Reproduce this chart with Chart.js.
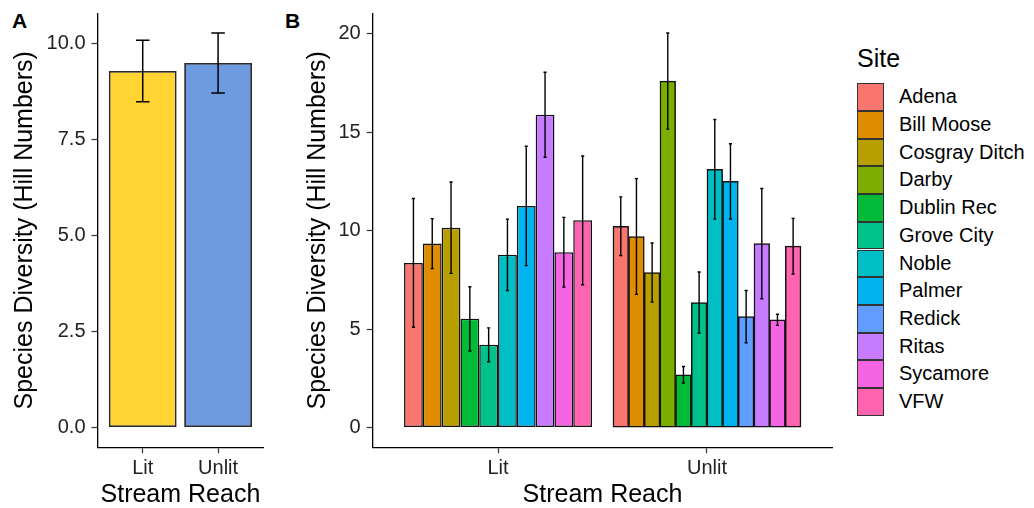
<!DOCTYPE html>
<html>
<head>
<meta charset="utf-8">
<script src="https://cdn.jsdelivr.net/npm/chart.js@4.4.1/dist/chart.umd.min.js"></script>
<style>
    html, body { margin: 0; padding: 0; background: #fff; }
    body {
        width: 1034px; height: 508px; position: relative; overflow: hidden;
        font-family: "Liberation Sans", Arial, sans-serif; color: #000;
    }
    canvas { position: absolute; top: 0; }
    #chartA { left: 0; }
    #chartB { left: 280px; }
    .tag { position: absolute; top: 10px; font-weight: bold; font-size: 21px; line-height: 1; }
    #legend { position: absolute; left: 0; top: 0; }
    #legend .title { position: absolute; left: 857px; top: 46px; font-size: 25px; line-height: 1; }
    #legend .key {
        position: absolute; left: 857px; width: 27px; box-sizing: border-box;
        border: 1.4px solid #333;
    }
    #legend .lab { position: absolute; left: 899px; font-size: 20px; white-space: nowrap; }
</style>
</head>
<body>
<div class="tag" style="left:12px;">A</div>
<div class="tag" style="left:285px;">B</div>
<canvas id="chartA" width="280" height="508"></canvas>
<canvas id="chartB" width="565" height="508"></canvas>
<div id="legend"></div>

<script>
// ── Panel A: mean diversity by stream reach ─────────────────────
const reaches = ['Lit', 'Unlit'];
const reachMean = [9.29, 9.50];
const reachSE = [0.80, 0.78];
const reachColors = ['#FFD433', '#6E9AE0'];
const yTicksA = [0, 2.5, 5, 7.5, 10];

// ── Panel B: diversity by site within reach ─────────────────────
const sites = ['Adena', 'Bill Moose', 'Cosgray Ditch', 'Darby', 'Dublin Rec', 'Grove City',
               'Noble', 'Palmer', 'Redick', 'Ritas', 'Sycamore', 'VFW'];
const siteColors = ['#F8766D', '#DE8C00', '#B79F00', '#7CAE00', '#00BA38', '#00C08B',
                    '#00BFC4', '#00B4F0', '#619CFF', '#C77CFF', '#F564E3', '#FF64B0'];

const litSites = ['Adena', 'Bill Moose', 'Cosgray Ditch', 'Dublin Rec', 'Grove City',
                  'Noble', 'Palmer', 'Ritas', 'Sycamore', 'VFW'];
const litMean = [8.36, 9.34, 10.15, 5.52, 4.20, 8.77, 11.25, 15.88, 8.90, 10.52];
const litSE   = [3.27, 1.27, 2.32, 1.63, 0.86, 1.81, 3.03, 2.16, 1.77, 3.27];

const unlitSites = ['Adena', 'Bill Moose', 'Cosgray Ditch', 'Darby', 'Dublin Rec', 'Grove City',
                    'Noble', 'Palmer', 'Redick', 'Ritas', 'Sycamore', 'VFW'];
const unlitMean = [10.22, 9.70, 7.87, 17.59, 2.68, 6.35, 13.11, 12.50, 5.63, 9.34, 5.47, 9.21];
const unlitSE   = [1.49, 2.94, 1.50, 2.44, 0.42, 1.55, 2.53, 1.91, 1.33, 2.80, 0.28, 1.41];

const yTicksB = [0, 5, 10, 15, 20];

(function () {
    'use strict';

    const FONT = '"Liberation Sans", Arial, sans-serif';
    const DODGE = 0.9;   // ggplot position_dodge width

    // ── Error bars drawn on top of the bars, in data units ──────
    const errorBars = {
        id: 'errorBars',
        afterDatasetsDraw(chart, args, opts) {
            const { ctx, scales: { x, y } } = chart;
            const half = Math.abs(x.getPixelForValue(opts.cap) - x.getPixelForValue(0)) / 2;
            ctx.save();
            ctx.strokeStyle = opts.color;
            ctx.lineWidth = opts.width;
            chart.data.datasets.forEach((ds, di) => {
                chart.getDatasetMeta(di).data.forEach((bar, i) => {
                    const v = ds.data[i].y, e = ds.se[i];
                    const top = y.getPixelForValue(v + e);
                    const bot = y.getPixelForValue(v - e);
                    ctx.beginPath();
                    ctx.moveTo(bar.x, top); ctx.lineTo(bar.x, bot);
                    ctx.moveTo(bar.x - half, top); ctx.lineTo(bar.x + half, top);
                    ctx.moveTo(bar.x - half, bot); ctx.lineTo(bar.x + half, bot);
                    ctx.stroke();
                });
            });
            ctx.restore();
        },
    };

    function _range(means, ses) {
        const hi = Math.max(...means.map((v, i) => v + ses[i]));
        return { min: -0.05 * hi, max: hi * 1.05 };
    }

    function _axisLook() {
        return {
            grid: { display: true, drawOnChartArea: false, drawTicks: true, offset: false,
                    tickLength: 6, tickWidth: 1.2, tickColor: '#333' },
            border: { display: true, color: '#000', width: 1.3 },
        };
    }

    // no extra label overhang padding: the panel keeps its own box
    function _noOverhang(s) {
        s.paddingTop = 0; s.paddingBottom = 0;
        s.paddingLeft = 0; s.paddingRight = 0;
    }

    function _xAxis() {
        return Object.assign(_axisLook(), {
            type: 'linear', min: 0.4, max: 2.6, offset: false,
            afterBuildTicks: s => { s.ticks = reaches.map((r, i) => ({ value: i + 1 })); },
            afterFit: s => { s.height = 60.7; _noOverhang(s); },
            ticks: {
                color: '#222', font: { family: FONT, size: 20 }, padding: 3,
                maxRotation: 0, autoSkip: false,
                callback: v => reaches[Math.round(v) - 1],
            },
            title: { display: true, text: 'Stream Reach', color: '#000',
                     font: { family: FONT, size: 25, lineHeight: 1 }, padding: 0 },
        });
    }

    function _yAxis(ticks, rng, width, titlePad, fmt) {
        return Object.assign(_axisLook(), {
            type: 'linear', min: rng.min, max: rng.max,
            afterBuildTicks: s => { s.ticks = ticks.map(v => ({ value: v })); },
            afterFit: s => { s.width = width; _noOverhang(s); },
            ticks: { color: '#222', font: { family: FONT, size: 20 }, padding: 6, callback: fmt },
            title: { display: true, text: 'Species Diversity (Hill Numbers)', color: '#000',
                     font: { family: FONT, size: 25, lineHeight: 1 },
                     padding: { top: titlePad, bottom: 0 } },
        });
    }

    function _baseOptions(layoutPad) {
        return {
            responsive: false,
            animation: false,
            layout: { padding: layoutPad },
            plugins: { legend: { display: false }, tooltip: { enabled: false } },
        };
    }

    // ── Panel A ─────────────────────────────────────────────────
    const optsA = _baseOptions({ left: 0, right: 16.7, top: 13.3, bottom: 0 });
    optsA.scales = {
        x: _xAxis(),
        y: _yAxis(yTicksA, _range(reachMean, reachSE), 97.5, 12.5, v => v.toFixed(1)),
    };
    optsA.plugins.errorBars = { cap: 0.18, width: 1.5, color: '#000' };

    new Chart(document.getElementById('chartA'), {
        type: 'bar',
        data: {
            datasets: [{
                data: reachMean.map((v, i) => ({ x: i + 1, y: v })),
                se: reachSE,
                backgroundColor: reachColors,
                borderColor: '#2a2a2a',
                borderWidth: 1.8,
                borderSkipped: false,
                barPercentage: DODGE,
                categoryPercentage: 1,
            }],
        },
        options: optsA,
        plugins: [errorBars],
    });

    // ── Panel B ─────────────────────────────────────────────────
    // dodge bars inside each reach, same as ggplot position_dodge(0.9)
    const nMax = Math.max(litMean.length, unlitMean.length);
    function _siteDataset(groupIdx, names, means, ses) {
        const n = means.length;
        return {
            data: means.map((v, i) => ({ x: groupIdx + 1 - DODGE / 2 + (i + 0.5) * DODGE / n, y: v })),
            se: ses,
            backgroundColor: names.map(s => siteColors[sites.indexOf(s)]),
            borderColor: '#111',
            borderWidth: 1.5,
            borderSkipped: false,
            grouped: false,
            categoryPercentage: 1,
            barPercentage: nMax / n,   // ruler uses the narrowest spacing
        };
    }

    const optsB = _baseOptions({ left: 0, right: 12.7, top: 13.3, bottom: 0 });
    optsB.scales = {
        x: _xAxis(),
        y: _yAxis(yTicksB, _range(unlitMean.concat(litMean), unlitSE.concat(litSE)),
                  92.7, 25.5, v => String(v)),
    };
    optsB.plugins.errorBars = { cap: 0.015, width: 1.4, color: '#000' };

    new Chart(document.getElementById('chartB'), {
        type: 'bar',
        data: {
            datasets: [
                _siteDataset(0, litSites, litMean, litSE),
                _siteDataset(1, unlitSites, unlitMean, unlitSE),
            ],
        },
        options: optsB,
        plugins: [errorBars],
    });

    // ── Legend (HTML, like ggplot's guide) ──────────────────────
    const host = document.getElementById('legend');
    const KEY_TOP = 83.3, KEY_H = 27.7;
    host.innerHTML = `<div class="title">Site</div>` + sites.map((s, i) => {
        const top = KEY_TOP + i * KEY_H;
        return `<div class="key" style="top:${top}px;height:${KEY_H}px;background:${siteColors[i]};"></div>
                <div class="lab" style="top:${top}px;line-height:${KEY_H}px;">${s}</div>`;
    }).join('');
})();
</script>
</body>
</html>
